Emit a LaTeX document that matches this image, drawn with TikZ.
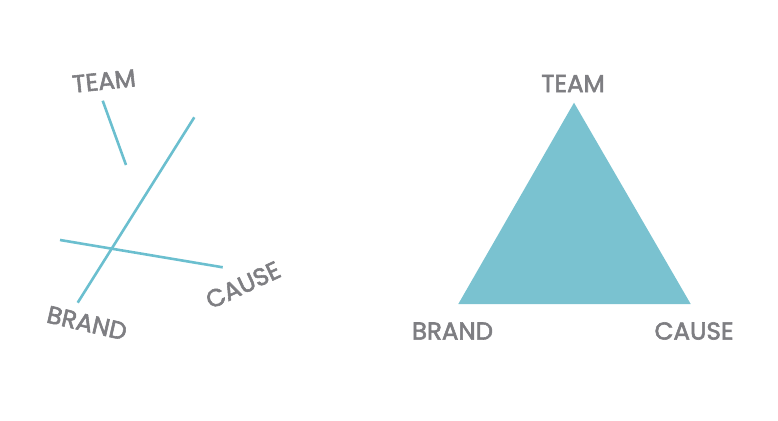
\documentclass[tikz,border=0pt]{standalone}
\usepackage{fontspec}
\setmainfont{Poppins}
\newfontfamily\lblfont[FakeBold=2.3]{Poppins}
\definecolor{teal}{HTML}{6BBFCF}
\definecolor{tealfill}{HTML}{7AC2D0}
\definecolor{labelgray}{HTML}{7E7E82}
\begin{document}
\begin{tikzpicture}[x=1pt,y=-1pt,
  lbl/.style={text=labelgray,font=\lblfont\fontsize{24.5}{25}\selectfont,inner sep=0pt,anchor=center},
  stroke/.style={draw=teal,line width=2.6pt}]
\useasboundingbox (0,0) rectangle (778,420);
% left
\coordinate (t1) at (102.7,100.7);
\coordinate (t2) at (126,165);
\coordinate (b1) at (194.3,117.3);
\coordinate (b2) at (77.7,302.7);
\coordinate (c1) at (60,240);
\coordinate (c2) at (222.7,267.3);
\draw[stroke] (t1) -- (t2);
\draw[stroke] (b1) -- (b2);
\draw[stroke] (c1) -- (c2);
\node[lbl,rotate=6] (lteam) at (104,81) {TEAM};
\node[lbl,rotate=-13] (lbrand) at (87,323) {BRAND};
\node[lbl,rotate=25] (lcause) at (243,285) {CAUSE};
% right
\coordinate (top) at (574,102.7);
\coordinate (bl) at (458.3,304);
\coordinate (br) at (690.7,304);
\fill[tealfill] (top) -- (bl) -- (br) -- cycle;
\node[lbl] (rteam) at (573,83.5) {TEAM};
\node[lbl] (rbrand) at (452.5,331) {BRAND};
\node[lbl] (rcause) at (694,331) {CAUSE};
\end{tikzpicture}
\end{document}
